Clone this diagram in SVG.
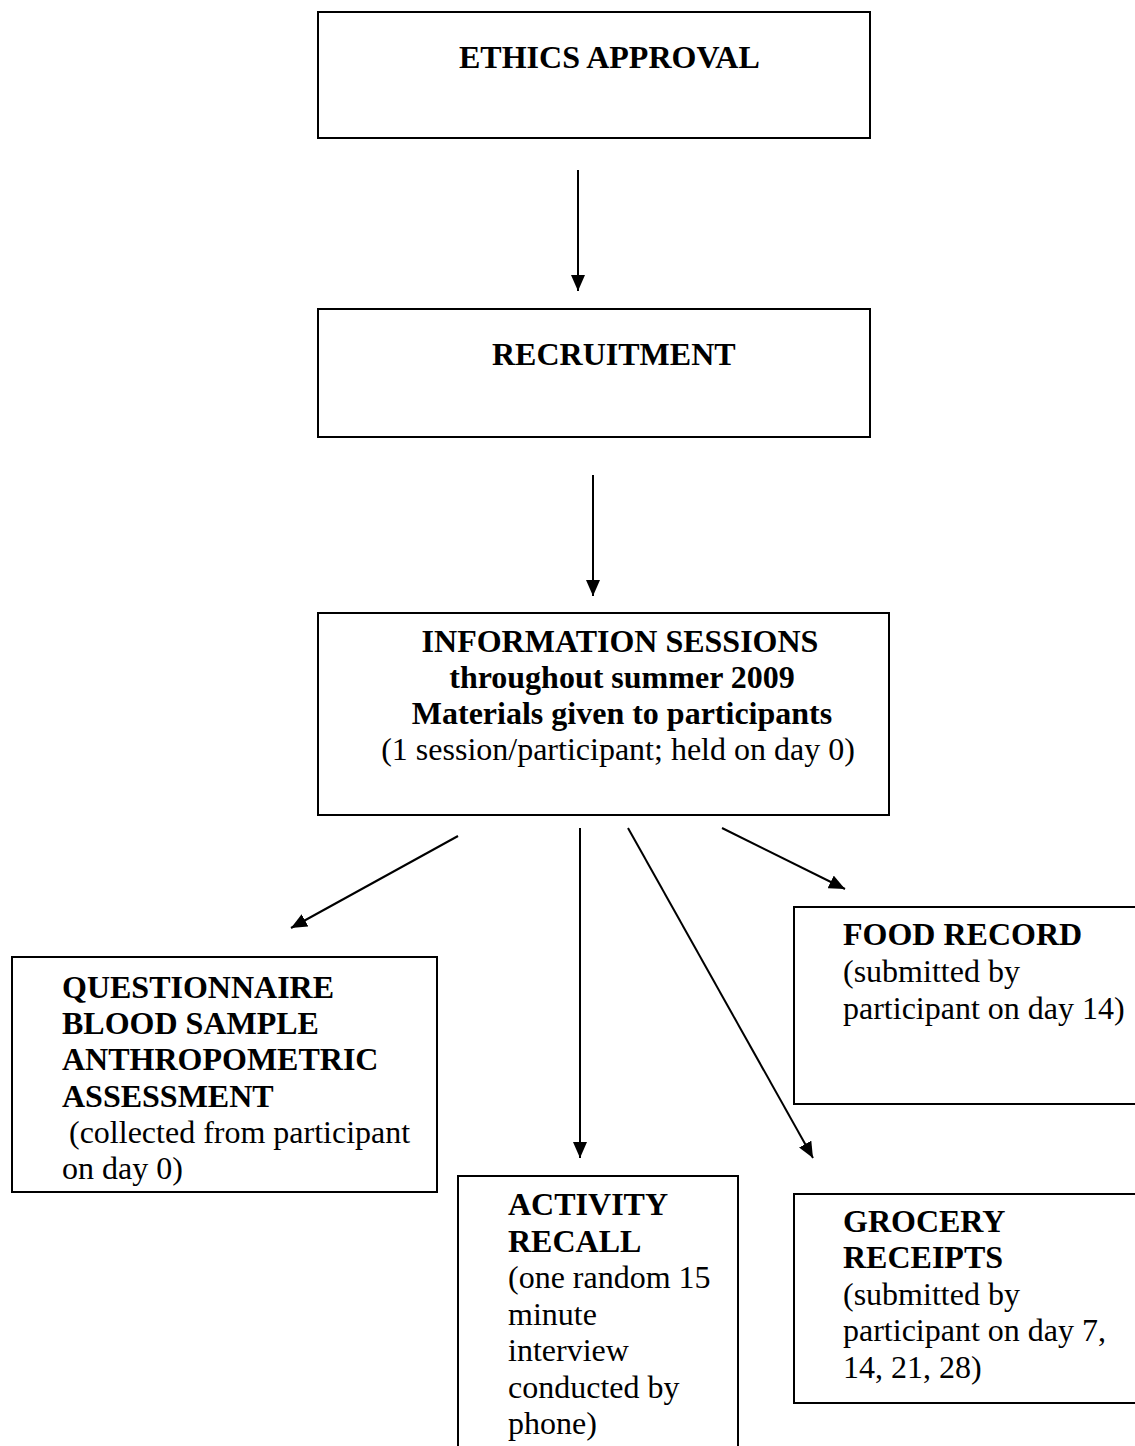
<svg xmlns="http://www.w3.org/2000/svg" width="1135" height="1446" viewBox="0 0 1135 1446">
<style>
  .box { fill: #ffffff; stroke: #000000; stroke-width: 2; }
  .t { font-family: "Liberation Serif", "Times New Roman", serif; font-size: 32px; fill: #000000; }
  .b { font-weight: bold; }
  .c { text-anchor: middle; }
  .conn { stroke: #000000; stroke-width: 2; fill: none; marker-end: url(#ah); }
</style>
<defs>
  <marker id="ah" viewBox="0 0 16 14" refX="16" refY="7" markerWidth="16" markerHeight="14" markerUnits="userSpaceOnUse" orient="auto">
    <path d="M0,0 L16,7 L0,14 z" fill="#000000"/>
  </marker>
</defs>
<rect width="1135" height="1446" fill="#ffffff"/>

<g id="connectors">
  <line class="conn" x1="578" y1="170" x2="578" y2="291"/>
  <line class="conn" x1="593" y1="475" x2="593" y2="596"/>
  <line class="conn" x1="458" y1="836" x2="291" y2="928"/>
  <line class="conn" x1="580" y1="828" x2="580" y2="1158"/>
  <line class="conn" x1="628" y1="828" x2="813" y2="1158"/>
  <line class="conn" x1="722" y1="828" x2="845" y2="889"/>
</g>

<g id="ethics">
  <rect class="box" x="318" y="12" width="552" height="126"/>
  <text class="t b" x="459" y="68">ETHICS APPROVAL</text>
</g>

<g id="recruitment">
  <rect class="box" x="318" y="309" width="552" height="128"/>
  <text class="t b" x="492" y="365">RECRUITMENT</text>
</g>

<g id="info">
  <rect class="box" x="318" y="613" width="571" height="202"/>
  <text class="t b c" x="620" y="652">INFORMATION SESSIONS</text>
  <text class="t b c" x="622" y="688">throughout summer 2009</text>
  <text class="t b c" x="622" y="724">Materials given to participants</text>
  <text class="t c" x="618" y="760">(1 session/participant; held on day 0)</text>
</g>

<g id="questionnaire">
  <rect class="box" x="12" y="957" width="425" height="235"/>
  <text class="t b" x="62" y="998">QUESTIONNAIRE</text>
  <text class="t b" x="62" y="1034">BLOOD SAMPLE</text>
  <text class="t b" x="62" y="1070">ANTHROPOMETRIC</text>
  <text class="t b" x="62" y="1107">ASSESSMENT</text>
  <text class="t" x="69" y="1143">(collected from participant</text>
  <text class="t" x="62" y="1179">on day 0)</text>
</g>

<g id="activity">
  <rect class="box" x="458" y="1176" width="280" height="290"/>
  <text class="t b" x="508" y="1215">ACTIVITY</text>
  <text class="t b" x="508" y="1252">RECALL</text>
  <text class="t" x="508" y="1288">(one random 15</text>
  <text class="t" x="508" y="1325">minute</text>
  <text class="t" x="508" y="1361">interview</text>
  <text class="t" x="508" y="1398">conducted by</text>
  <text class="t" x="508" y="1434">phone)</text>
</g>

<g id="food">
  <rect class="box" x="794" y="907" width="350" height="197"/>
  <text class="t b" x="843" y="945">FOOD RECORD</text>
  <text class="t" x="843" y="982">(submitted by</text>
  <text class="t" x="843" y="1019">participant on day 14)</text>
</g>

<g id="grocery">
  <rect class="box" x="794" y="1194" width="350" height="209"/>
  <text class="t b" x="843" y="1232">GROCERY</text>
  <text class="t b" x="843" y="1268">RECEIPTS</text>
  <text class="t" x="843" y="1305">(submitted by</text>
  <text class="t" x="843" y="1341">participant on day 7,</text>
  <text class="t" x="843" y="1378">14, 21, 28)</text>
</g>
</svg>
